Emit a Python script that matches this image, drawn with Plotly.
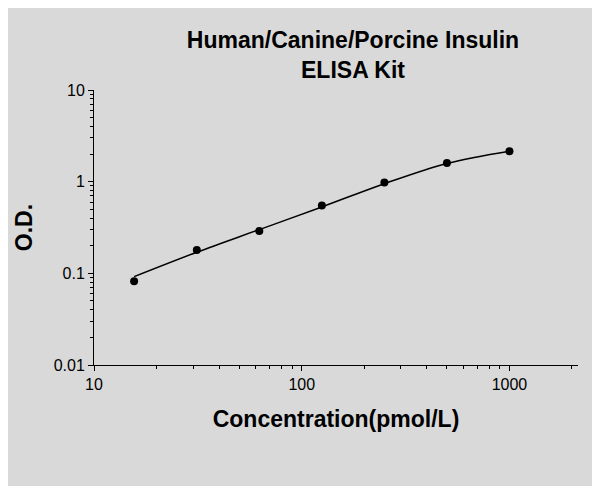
import plotly.graph_objects as go

conc = [15.6, 31.25, 62.5, 125, 250, 500, 1000]
od = [0.082, 0.18, 0.29, 0.55, 0.98, 1.6, 2.15]
fit_x = [15.6, 31.25, 62.5, 125, 250, 500, 1000]
fit_y = [0.092, 0.17, 0.30, 0.53, 0.95, 1.58, 2.15]

xminor = [m * 10 ** d for d in range(1, 4) for m in range(2, 10)]
yminor = [m * 10.0 ** d for d in range(-2, 1) for m in range(2, 10)]

fig = go.Figure()
fig.add_trace(go.Scatter(x=fit_x, y=fit_y, mode="lines", line=dict(color="black", width=1.5, shape="spline"), hoverinfo="skip"))
fig.add_trace(go.Scatter(x=conc, y=od, mode="markers", marker=dict(color="black", size=8)))

def ax(minor_vals):
    return dict(type="log", showline=True, linecolor="black", linewidth=1, ticks="outside", ticklen=5,
                tickcolor="black", showgrid=False, zeroline=False,
                tickfont=dict(family="Liberation Sans, Arial", size=16, color="black"),
                minor=dict(ticks="outside", ticklen=3, tickcolor="black", showgrid=False, tickvals=minor_vals))

fig.update_layout(
    width=600, height=486, showlegend=False,
    paper_bgcolor="#d9d9d9", plot_bgcolor="#d9d9d9",
    margin=dict(l=86, r=30, t=82, b=129),
    title=dict(text="<b>Human/Canine/Porcine Insulin<br>ELISA Kit</b>", x=0.575, xanchor="center", y=0.918, yanchor="top",
               font=dict(family="Liberation Sans, Arial", size=23, color="black")),
    xaxis=dict(ax(xminor), range=[1, 3.33], tickvals=[10, 100, 1000], ticktext=["10", "100", "1000"],
               title=dict(text="<b>Concentration(pmol/L)</b>", font=dict(family="Liberation Sans, Arial", size=23, color="black"), standoff=18)),
    yaxis=dict(ax(yminor), range=[-2, 1], tickvals=[0.01, 0.1, 1, 10], ticktext=["0.01", "0.1", "1", "10"],
               title=dict(text="<b>O.D.</b>", font=dict(family="Liberation Sans, Arial", size=23, color="black"), standoff=14)),
)
fig.write_html("out.html")
